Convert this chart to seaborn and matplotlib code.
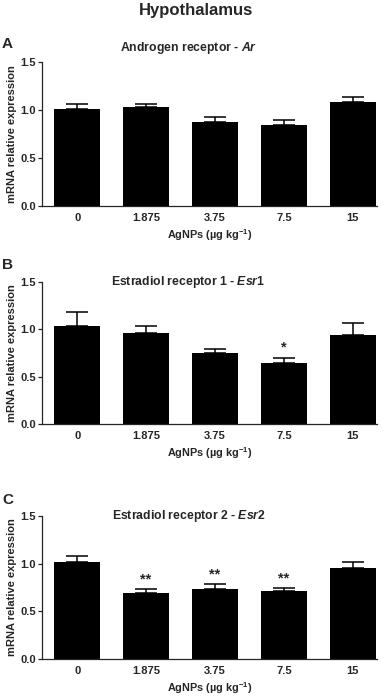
import matplotlib
matplotlib.use("Agg")
import matplotlib.pyplot as plt
import seaborn as sns
import pandas as pd
import numpy as np

sns.set_theme(style="ticks")
plt.rcParams['font.family'] = ['Liberation Sans', 'DejaVu Sans']
plt.rcParams['mathtext.fontset'] = 'custom'
plt.rcParams['mathtext.rm'] = 'Liberation Sans:bold'
plt.rcParams['mathtext.it'] = 'Liberation Sans:italic:bold'
plt.rcParams['mathtext.bf'] = 'Liberation Sans:bold'

doses = ["0", "1.875", "3.75", "7.5", "15"]

ar_mean = [1.01, 1.035, 0.875, 0.84, 1.085]
ar_sem = [0.05, 0.025, 0.055, 0.06, 0.055]
ar_sig = ["", "", "", "", ""]

esr1_mean = [1.035, 0.965, 0.745, 0.65, 0.935]
esr1_sem = [0.145, 0.065, 0.045, 0.05, 0.13]
esr1_sig = ["", "", "", "*", ""]

esr2_mean = [1.013, 0.69, 0.735, 0.71, 0.95]
esr2_sem = [0.067, 0.04, 0.045, 0.03, 0.07]
esr2_sig = ["", "**", "**", "**", ""]

panels = [
    ("A", "Androgen receptor - ", "Ar", ar_mean, ar_sem, ar_sig),
    ("B", "Estradiol receptor 1 - ", "Esr1", esr1_mean, esr1_sem, esr1_sig),
    ("C", "Estradiol receptor 2 - ", "Esr2", esr2_mean, esr2_sem, esr2_sig),
]

fig = plt.figure(figsize=(3.92, 6.96), dpi=100)
W, H = 392, 696
axes_px = [(42, 62, 377, 206), (42, 281.7, 377, 424.3), (42, 516, 377, 658.7)]
title_y = [48, 282, 516]
letter_y = [44, 265, 500]

fig.text(0.5, 1 - 10 / H, "Hypothalamus", ha="center", va="center",
         fontsize=12, fontweight="bold")

for k, ((letter, title, gene, mean, sem, sig), (l, t, r, b)) in enumerate(zip(panels, axes_px)):
    ax = fig.add_axes([l / W, 1 - b / H, (r - l) / W, (b - t) / H])
    df = pd.DataFrame({"dose": doses, "value": mean})
    ax.errorbar(np.arange(len(doses)), mean, yerr=[np.zeros(len(sem)), sem],
                fmt="none", ecolor="black", elinewidth=1.1, capsize=8,
                capthick=1.1, zorder=1)
    sns.barplot(data=df, x="dose", y="value", color="black", width=0.67,
                edgecolor="black", linewidth=0, ax=ax, zorder=2, errorbar=None)
    for i, s in enumerate(sig):
        if s:
            ax.text(i, mean[i] + sem[i] + 0.03, s, ha="center", va="bottom",
                    fontsize=10.5, fontweight="bold")
    ax.set_xlim(-0.51, 4.35)
    ax.set_ylim(0, 1.5)
    ax.set_yticks([0.0, 0.5, 1.0, 1.5])
    ax.set_yticklabels(["0.0", "0.5", "1.0", "1.5"])
    ax.tick_params(axis="y", length=3, width=0.9, pad=1.5, labelsize=8)
    ax.tick_params(axis="x", length=0, pad=5, labelsize=8)
    for lab in ax.get_xticklabels() + ax.get_yticklabels():
        lab.set_fontweight("bold")
    sns.despine(ax=ax)
    ax.spines["left"].set_linewidth(0.9)
    ax.spines["bottom"].set_linewidth(0.9)
    ax.set_xlabel("AgNPs (µg kg$^{-1}$)", fontsize=7.8,
                  fontweight="bold", labelpad=3)
    ax.set_ylabel("mRNA relative expression", fontsize=8, fontweight="bold",
                  labelpad=2)
    fig.text(((l + r) / 2 - 21) / W, 1 - title_y[k] / H,
             title + r"$\mathit{" + gene + "}$", ha="center", va="center",
             fontsize=8.8, fontweight="bold")
    fig.text(2 / W, 1 - letter_y[k] / H, letter, ha="left", va="center",
             fontsize=11, fontweight="bold")

fig.savefig("out.png", dpi=100)
